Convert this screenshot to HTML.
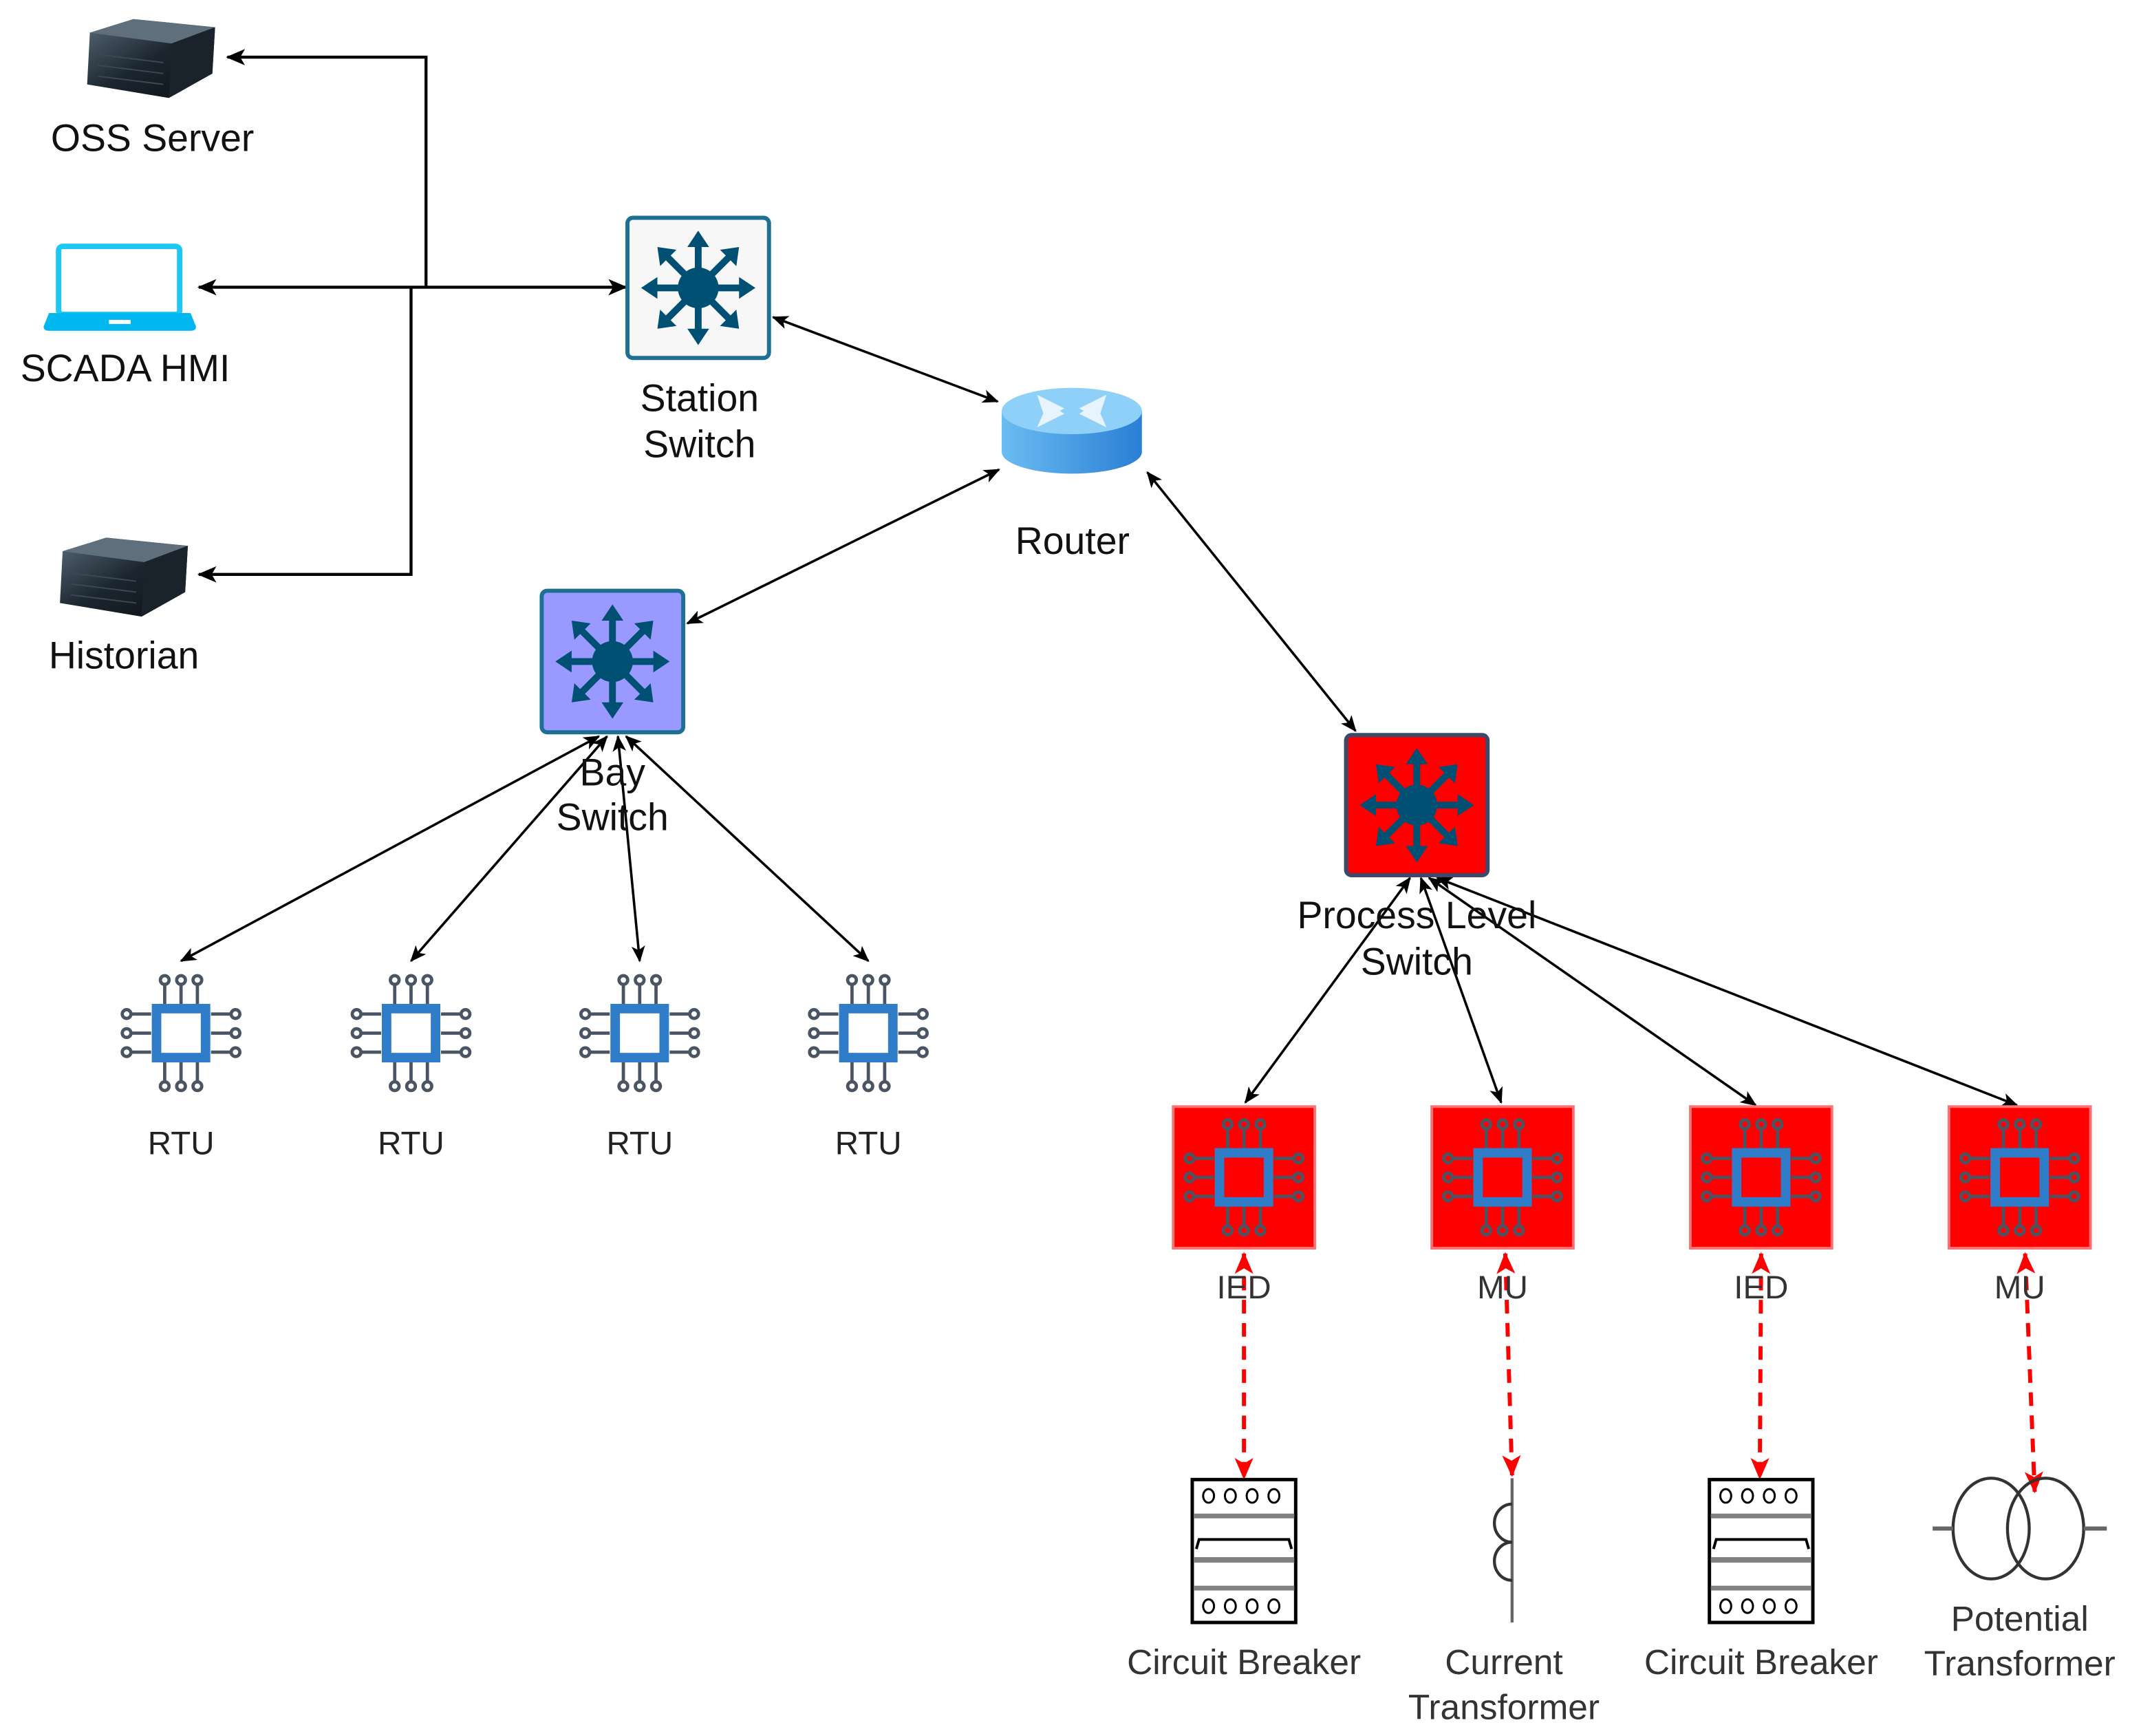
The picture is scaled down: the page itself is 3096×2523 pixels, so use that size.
<!DOCTYPE html>
<html><head><meta charset="utf-8"><style>
html,body{margin:0;padding:0;background:#fff}
svg{display:block}
text{font-family:"Liberation Sans",sans-serif;text-anchor:middle}
</style></head><body>
<svg width="3096" height="2523" viewBox="0 0 1565 1275.4" xmlns="http://www.w3.org/2000/svg">
<defs>
<marker id="a" viewBox="0 0 12 10" refX="11" refY="5" markerWidth="12" markerHeight="10" markerUnits="userSpaceOnUse" orient="auto-start-reverse">
<path d="M0,0 L12,5 L0,10 L3,5 Z" fill="#000"/></marker>
<marker id="b" viewBox="0 0 14 12" refX="13" refY="6" markerWidth="14" markerHeight="12" markerUnits="userSpaceOnUse" orient="auto-start-reverse">
<path d="M0,0 L14,6 L0,12 L3.5,6 Z" fill="#000"/></marker>
<marker id="r" viewBox="0 0 14 12" refX="13" refY="6" markerWidth="16" markerHeight="14" markerUnits="userSpaceOnUse" orient="auto-start-reverse">
<path d="M0,0 L14,6 L0,12 L3.5,6 Z" fill="#f00"/></marker>
<linearGradient id="srv" x1="0" y1="0" x2="1" y2="1"><stop offset="0" stop-color="#5a6a78"/><stop offset="0.5" stop-color="#1c262f"/><stop offset="1" stop-color="#0b1015"/></linearGradient>
<linearGradient id="rt" x1="0" y1="0" x2="1" y2="0"><stop offset="0" stop-color="#6bbcf2"/><stop offset="1" stop-color="#2a7fd4"/></linearGradient>
<g id="star" fill="#005073" stroke="#005073">
<circle cx="0" cy="0" r="15" stroke="none"/>
<g stroke-width="5">
<line x1="0" y1="0" x2="0" y2="-32"/><line x1="0" y1="0" x2="0" y2="32"/>
<line x1="0" y1="0" x2="-32" y2="0"/><line x1="0" y1="0" x2="32" y2="0"/>
<line x1="0" y1="0" x2="-24" y2="-24"/><line x1="0" y1="0" x2="24" y2="24"/>
<line x1="0" y1="0" x2="24" y2="-24"/><line x1="0" y1="0" x2="-24" y2="24"/>
</g>
<g stroke="none">
<path d="M0,-42 L-8,-30 L8,-30Z"/><path d="M0,42 L-8,30 L8,30Z"/>
<path d="M-42,0 L-30,-8 L-30,8Z"/><path d="M42,0 L30,-8 L30,8Z"/>
<path d="M-30,-30 L-28,-16 L-16,-28Z"/><path d="M30,30 L28,16 L16,28Z"/>
<path d="M30,-30 L16,-28 L28,-16Z"/><path d="M-30,30 L-16,28 L-28,16Z"/>
</g></g>
<g id="pins" stroke="#4a5564" stroke-width="2.4" fill="none">
<line x1="-12" y1="-20" x2="-12" y2="-36"/><line x1="0" y1="-20" x2="0" y2="-36"/><line x1="12" y1="-20" x2="12" y2="-36"/>
<circle cx="-12" cy="-39" r="3.2"/><circle cx="0" cy="-39" r="3.2"/><circle cx="12" cy="-39" r="3.2"/>
<line x1="-12" y1="20" x2="-12" y2="36"/><line x1="0" y1="20" x2="0" y2="36"/><line x1="12" y1="20" x2="12" y2="36"/>
<circle cx="-12" cy="39" r="3.2"/><circle cx="0" cy="39" r="3.2"/><circle cx="12" cy="39" r="3.2"/>
<line x1="-22" y1="-14" x2="-37" y2="-14"/><line x1="-22" y1="0" x2="-37" y2="0"/><line x1="-22" y1="14" x2="-37" y2="14"/>
<circle cx="-40" cy="-14" r="3.2"/><circle cx="-40" cy="0" r="3.2"/><circle cx="-40" cy="14" r="3.2"/>
<line x1="22" y1="-14" x2="37" y2="-14"/><line x1="22" y1="0" x2="37" y2="0"/><line x1="22" y1="14" x2="37" y2="14"/>
<circle cx="40" cy="-14" r="3.2"/><circle cx="40" cy="0" r="3.2"/><circle cx="40" cy="14" r="3.2"/>
</g>
<g id="chip"><use href="#pins"/><rect x="-18" y="-18" width="36" height="36" fill="#fff" stroke="#2f7dc9" stroke-width="7"/></g>
<g id="chipr"><use href="#pins"/><rect x="-18" y="-18" width="36" height="36" fill="#f00" stroke="#2f7dc9" stroke-width="7"/></g>
<g id="server">
<path d="M4,14 L36,4 L96,10 L94,44 L62,62 L2,52 Z" fill="url(#srv)"/>
<path d="M4,14 L36,4 L96,10 L64,22 Z" fill="#5f6f7c"/>
<path d="M64,22 L96,10 L94,44 L62,62 Z" fill="#1a232b"/>
<g stroke="#3a4855" stroke-width="1"><line x1="10" y1="30" x2="58" y2="36"/><line x1="10" y1="38" x2="58" y2="44"/><line x1="10" y1="46" x2="58" y2="52"/></g>
</g>
<g id="cb">
<rect x="0" y="0" width="76" height="105" fill="#fff" stroke="#000" stroke-width="2.5"/>
<g fill="none" stroke="#000" stroke-width="1.5"><ellipse cx="12" cy="12" rx="4" ry="5"/><ellipse cx="28" cy="12" rx="4" ry="5"/><ellipse cx="44" cy="12" rx="4" ry="5"/><ellipse cx="60" cy="12" rx="4" ry="5"/>
<ellipse cx="12" cy="93" rx="4" ry="5"/><ellipse cx="28" cy="93" rx="4" ry="5"/><ellipse cx="44" cy="93" rx="4" ry="5"/><ellipse cx="60" cy="93" rx="4" ry="5"/></g>
<rect x="1" y="25" width="74" height="3.5" fill="#808080"/>
<rect x="1" y="57" width="74" height="4" fill="#808080"/>
<rect x="1" y="78" width="74" height="3.5" fill="#808080"/>
<path d="M3,51 L5,44 L71,44 L73,51" fill="none" stroke="#000" stroke-width="2"/>
</g>
</defs>

<g fill="none" stroke="#000" stroke-width="2.2">
<polyline points="313,211 313,42 167,42" marker-end="url(#b)"/>
<line x1="302" y1="211" x2="146" y2="211" marker-end="url(#b)"/>
<line x1="302" y1="211" x2="460" y2="211" marker-end="url(#b)"/>
<polyline points="302,211 302,422 146,422" marker-end="url(#b)"/>
</g>
<g fill="none" stroke="#000" stroke-width="1.8">
<line x1="568" y1="233" x2="733" y2="295" marker-start="url(#a)" marker-end="url(#a)"/>
<line x1="505" y1="458" x2="734" y2="345" marker-start="url(#a)" marker-end="url(#a)"/>
<line x1="843" y1="347" x2="996" y2="537" marker-start="url(#a)" marker-end="url(#a)"/>
<line x1="440" y1="541" x2="133" y2="706" marker-start="url(#a)" marker-end="url(#a)"/>
<line x1="446" y1="541" x2="302" y2="706" marker-start="url(#a)" marker-end="url(#a)"/>
<line x1="454" y1="541" x2="470" y2="706" marker-start="url(#a)" marker-end="url(#a)"/>
<line x1="460" y1="541" x2="638" y2="706" marker-start="url(#a)" marker-end="url(#a)"/>
<line x1="1036" y1="645" x2="915" y2="810" marker-start="url(#a)" marker-end="url(#a)"/>
<line x1="1044" y1="645" x2="1103" y2="810" marker-start="url(#a)" marker-end="url(#a)"/>
<line x1="1050" y1="645" x2="1290" y2="812" marker-start="url(#a)" marker-end="url(#a)"/>
<line x1="1056" y1="645" x2="1482" y2="812" marker-start="url(#a)" marker-end="url(#a)"/>
</g>

<use href="#server" x="62" y="10"/>
<use href="#server" x="42" y="391"/>
<g>
<rect x="43" y="181" width="89" height="50" rx="3" fill="#fff" stroke="#1ec8f5" stroke-width="4"/>
<path d="M36,230 L140,230 L144,240 Q144,243 140,243 L36,243 Q32,243 32,240 Z" fill="#00b7f0"/>
<rect x="80" y="235" width="16" height="3" fill="#fff"/>
</g>
<g font-size="28" fill="#111">
<text x="112" y="111">OSS Server</text>
<text x="92" y="280">SCADA HMI</text>
<text x="91" y="491">Historian</text>
<text x="514" y="302">Station</text><text x="514" y="336">Switch</text>
<text x="788" y="407">Router</text>
<text x="450" y="577">Bay</text><text x="450" y="610">Switch</text>
<text x="1041" y="682">Process Level</text><text x="1041" y="716">Switch</text>
</g>

<rect x="461" y="160" width="104" height="103" rx="4" fill="#f7f7f7" stroke="#1e6f94" stroke-width="3"/>
<use href="#star" transform="translate(513,211.5)"/>
<rect x="398" y="434" width="104" height="104" rx="4" fill="#9999ff" stroke="#1e6f94" stroke-width="3"/>
<use href="#star" transform="translate(450,486)"/>
<rect x="989" y="540" width="104" height="103" rx="4" fill="#f00" stroke="#3b4a6b" stroke-width="3"/>
<use href="#star" transform="translate(1041,591.5)"/>

<g>
<rect x="736" y="302" width="103" height="30" fill="url(#rt)"/>
<ellipse cx="787.5" cy="332" rx="51.5" ry="16" fill="url(#rt)"/>
<ellipse cx="787.5" cy="302" rx="51.5" ry="17" fill="#8fd0f8"/>
<g fill="#e8f3fb"><path d="M762,290 L782,300 L768,308Z"/><path d="M813,290 L793,300 L807,308Z"/><path d="M762,314 L782,304 L770,296Z"/><path d="M813,314 L793,304 L805,296Z"/></g>
</g>

<use href="#chip" transform="translate(133,759)"/>
<use href="#chip" transform="translate(302,759)"/>
<use href="#chip" transform="translate(470,759)"/>
<use href="#chip" transform="translate(638,759)"/>
<g font-size="24" fill="#222">
<text x="133" y="848">RTU</text><text x="302" y="848">RTU</text><text x="470" y="848">RTU</text><text x="638" y="848">RTU</text>
</g>

<g stroke="#ff7070" stroke-width="2" fill="#f00">
<rect x="862" y="813" width="104" height="104"/><rect x="1052" y="813" width="104" height="104"/>
<rect x="1242" y="813" width="104" height="104"/><rect x="1432" y="813" width="104" height="104"/>
</g>
<use href="#chipr" transform="translate(914,865)"/>
<use href="#chipr" transform="translate(1104,865)"/>
<use href="#chipr" transform="translate(1294,865)"/>
<use href="#chipr" transform="translate(1484,865)"/>

<g fill="none" stroke="#f00" stroke-width="3" stroke-dasharray="10,7">
<line x1="914" y1="921" x2="914" y2="1086" marker-start="url(#r)" marker-end="url(#r)"/>
<line x1="1106" y1="921" x2="1111" y2="1084" marker-start="url(#r)" marker-end="url(#r)"/>
<line x1="1294" y1="921" x2="1293" y2="1086" marker-start="url(#r)" marker-end="url(#r)"/>
<line x1="1488" y1="921" x2="1495" y2="1096" marker-start="url(#r)" marker-end="url(#r)"/>
</g>
<g font-size="24" fill="#333">
<text x="914" y="954">IED</text><text x="1104" y="954">MU</text><text x="1294" y="954">IED</text><text x="1484" y="954">MU</text>
</g>

<use href="#cb" x="876" y="1087"/>
<use href="#cb" x="1256" y="1087"/>
<g fill="none" stroke="#333" stroke-width="2.2">
<line x1="1111" y1="1086" x2="1111" y2="1192" stroke="#666"/>
<path d="M1111,1105 A13,14 0 0 0 1111,1133"/>
<path d="M1111,1133 A13,14 0 0 0 1111,1161"/>
<ellipse cx="1463" cy="1123" rx="28" ry="37"/>
<ellipse cx="1503" cy="1123" rx="28" ry="37"/>
<line x1="1420" y1="1123" x2="1435" y2="1123" stroke="#666" stroke-width="3"/>
<line x1="1531" y1="1123" x2="1548" y2="1123" stroke="#666" stroke-width="3"/>
</g>
<g font-size="26" fill="#333">
<text x="914" y="1230">Circuit Breaker</text>
<text x="1105" y="1230">Current</text><text x="1105" y="1263">Transformer</text>
<text x="1294" y="1230">Circuit Breaker</text>
<text x="1484" y="1198">Potential</text><text x="1484" y="1231">Transformer</text>
</g>
</svg>
</body></html>
